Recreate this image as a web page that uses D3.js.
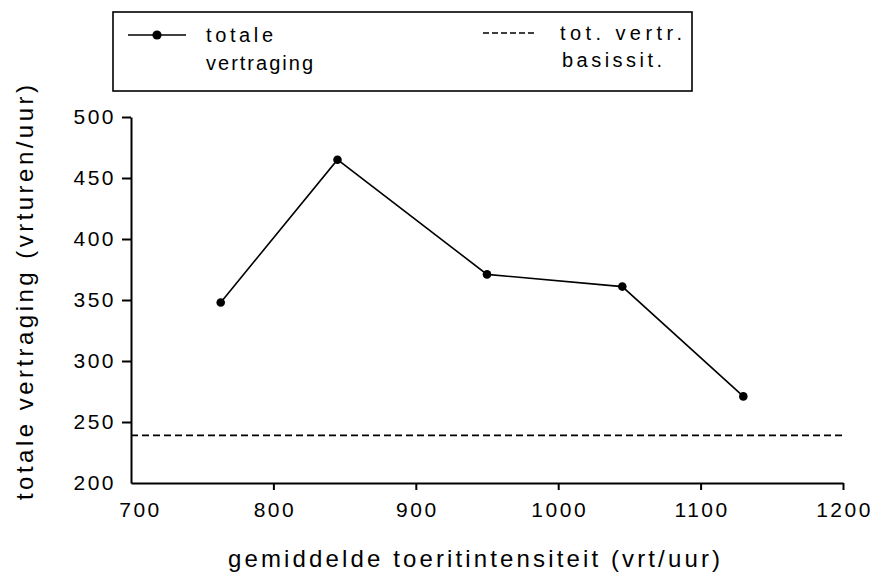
<!DOCTYPE html>
<html>
<head>
<meta charset="utf-8">
<script src="https://cdn.jsdelivr.net/npm/d3@7"></script>
<style>
  html, body { margin: 0; padding: 0; background: #fff; }
  svg { display: block; }
  text { font-family: "Liberation Sans", "DejaVu Sans", sans-serif; fill: #000; }
</style>
</head>
<body>
<svg id="chart" width="876" height="582"></svg>
<script>
// ---- data ----
const intensiteit = [763, 845, 950, 1045, 1130];
const vertraging  = [348, 465, 371, 361, 271];
const basisDomain = [700, 1200];
const basisValue  = [239, 239];
const xTicks = [700, 800, 900, 1000, 1100, 1200];
const yTicks = [200, 250, 300, 350, 400, 450, 500];
const legendLabels = [["totale", "vertraging"], ["tot. vertr.", "basissit."]];
const xTitle = "gemiddelde  toeritintensiteit  (vrt/uur)";
const yTitle = "totale  vertraging  (vrturen/uur)";

const svg = d3.select("#chart");
const x = d3.scaleLinear().domain([700, 1200]).range([131, 843]);
const y = d3.scaleLinear().domain([200, 500]).range([483, 117]);

// axes
const gx = svg.append("g").attr("transform", `translate(0,${y(200)})`)
  .call(d3.axisBottom(x).tickValues(xTicks).tickSize(7).tickSizeOuter(0).tickPadding(12).tickFormat(d3.format("d")));
const gy = svg.append("g").attr("transform", `translate(${x(700)},0)`)
  .call(d3.axisLeft(y).tickValues(yTicks).tickSize(9).tickSizeOuter(0).tickPadding(6).tickFormat(d3.format("d")));
[gx, gy].forEach(g => {
  g.select(".domain").attr("stroke", "#000").attr("stroke-width", 2);
  g.selectAll(".tick line").attr("stroke", "#000").attr("stroke-width", 2);
  g.selectAll(".tick text").attr("font-size", 21).attr("font-family", "Liberation Sans, sans-serif")
    .attr("fill", "#000").style("letter-spacing", "2.5px");
});
gx.selectAll(".tick text").attr("dx", d => d === 700 ? 9 : 1);
gx.selectAll(".tick").filter(d => d === 700).select("line").remove();
gy.selectAll(".tick").filter(d => d === 200).select("line").remove();

// baseline dashed
svg.append("path")
  .datum(basisDomain.map((d, i) => [d, basisValue[i]]))
  .attr("d", d3.line().x(d => x(d[0])).y(d => y(d[1])))
  .attr("fill", "none").attr("stroke", "#000").attr("stroke-width", 1.6)
  .attr("stroke-dasharray", "7,4");

// main line
const pts = intensiteit.map((d, i) => [d, vertraging[i]]);
svg.append("path").datum(pts)
  .attr("d", d3.line().x(d => x(d[0])).y(d => y(d[1])))
  .attr("fill", "none").attr("stroke", "#000").attr("stroke-width", 1.6);
svg.selectAll("circle.pt").data(pts).enter().append("circle")
  .attr("class", "pt").attr("cx", d => x(d[0])).attr("cy", d => y(d[1]))
  .attr("r", 4.3).attr("fill", "#000");

// axis titles
svg.append("text").attr("x", 228).attr("y", 567).attr("font-size", 24)
  .attr("textLength", 492).attr("lengthAdjust", "spacing").text(xTitle);
svg.append("text").attr("transform", "translate(33,500) rotate(-90)").attr("font-size", 24)
  .attr("textLength", 415).attr("lengthAdjust", "spacing").text(yTitle);

// legend
svg.append("rect").attr("x", 113).attr("y", 12).attr("width", 579).attr("height", 79)
  .attr("fill", "none").attr("stroke", "#000").attr("stroke-width", 1.6);
svg.append("line").attr("x1", 128).attr("x2", 186).attr("y1", 35).attr("y2", 35)
  .attr("stroke", "#000").attr("stroke-width", 1.6);
svg.append("circle").attr("cx", 157).attr("cy", 35).attr("r", 4.6).attr("fill", "#000");
svg.append("line").attr("x1", 483).attr("x2", 537).attr("y1", 33).attr("y2", 33)
  .attr("stroke", "#000").attr("stroke-width", 1.4).attr("stroke-dasharray", "6,3");
const legTexts = [
  {t: legendLabels[0][0], x: 206, y: 42, w: 67},
  {t: legendLabels[0][1], x: 206, y: 70, w: 107},
  {t: legendLabels[1][0], x: 560, y: 40, w: 122},
  {t: legendLabels[1][1], x: 562, y: 67, w: 100}
];
svg.selectAll("text.leg").data(legTexts).enter().append("text").attr("class", "leg")
  .attr("x", d => d.x).attr("y", d => d.y).attr("font-size", 20)
  .attr("textLength", d => d.w).attr("lengthAdjust", "spacing").text(d => d.t);
</script>
</body>
</html>
